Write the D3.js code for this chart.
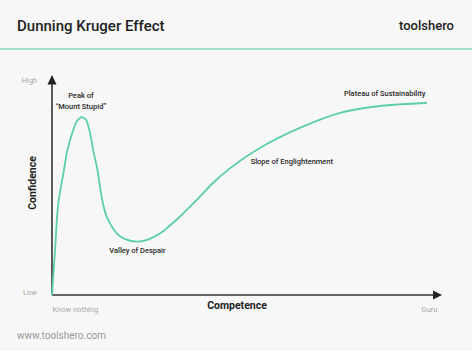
<!DOCTYPE html>
<html>
<head>
<meta charset="utf-8">
<script src="https://cdn.jsdelivr.net/npm/d3@7"></script>
<style>
  html, body { margin: 0; padding: 0; background: #ffffff; }
  svg { display: block; }
  text { font-family: Roboto, "Noto Sans", sans-serif; }
</style>
</head>
<body>
<svg id="chart" width="474" height="355"></svg>
<script>
// ---- Data ----
const competence = [0, 0.8, 1.6, 3.1, 4.0, 5.5, 6.5, 7.7, 8.8, 9.7, 10.7, 11.8, 12.6, 13.2, 14.2, 15.3, 16.8, 19.0, 22.0, 24.9, 28.1, 30.6, 33.2, 37.6, 41.8, 46.2, 54.0, 64.4, 74.8, 85.2, 97.4];
const confidence = [0, 20.9, 41.9, 58.1, 67.4, 76.7, 80.9, 82.7, 81.6, 76.7, 67.4, 58.1, 48.8, 42.8, 36.4, 32.6, 28.7, 26.0, 24.8, 25.8, 28.7, 32.3, 36.4, 44.2, 52.1, 58.9, 68.4, 77.7, 84.7, 87.9, 89.3];
const xTickValues = [0, 100];
const xTickLabels = ["Know nothing", "Guru"];
const yTickValues = [0, 100];
const yTickLabels = ["Low", "High"];
const stageNames = ["Peak of|\u201CMount Stupid\u201D", "Valley of Despair", "Slope of Englightenment", "Plateau of Sustainability"];
const stageX = [7.5, 22.2, 62.3, 86.4];
const stageY = [91.6, 19.5, 60.9, 92.6];

const svg = d3.select("#chart");

// background
svg.append("rect").attr("x", 0).attr("y", 0).attr("width", 472).attr("height", 351).attr("fill", "#f7f7f7");

// header
svg.append("text").attr("x", 17).attr("y", 31).attr("font-size", 15).attr("font-weight", 500)
  .attr("fill", "#222").text("Dunning Kruger Effect");
svg.append("text").attr("x", 454).attr("y", 30).attr("text-anchor", "end").attr("font-size", 13)
  .attr("font-weight", 500).attr("fill", "#222").text("toolshero");
svg.append("line").attr("x1", 0).attr("x2", 472).attr("y1", 49).attr("y2", 49)
  .attr("stroke", "#86d3bf").attr("stroke-width", 1.5);

// scales
const x = d3.scaleLinear().domain([0, 100]).range([52, 437]);
const y = d3.scaleLinear().domain([0, 100]).range([295, 80]);

// axes lines with arrows
const axisColor = "#333";
svg.append("line").attr("x1", x(0)).attr("x2", x(0)).attr("y1", y(0)).attr("y2", 82)
  .attr("stroke", axisColor).attr("stroke-width", 1.6);
svg.append("path").attr("d", `M${x(0)},75 L${x(0) - 4.5},84.5 L${x(0) + 4.5},84.5 Z`).attr("fill", "#222");
svg.append("line").attr("x1", x(0)).attr("x2", 436).attr("y1", y(0)).attr("y2", y(0))
  .attr("stroke", axisColor).attr("stroke-width", 1.6);
svg.append("path").attr("d", `M442,${y(0)} L433,${y(0) - 4.5} L433,${y(0) + 4.5} Z`).attr("fill", "#222");

// tick labels via d3 axes
const yAxis = d3.axisLeft(y).tickValues(yTickValues).tickSize(0).tickPadding(15)
  .tickFormat((d, i) => yTickLabels[i]);
const gy = svg.append("g").attr("transform", `translate(${x(0)},0)`).call(yAxis);
gy.select(".domain").remove();
gy.selectAll("text").attr("font-size", 7.5).attr("fill", "#a8a8a8")
  .attr("font-family", "Roboto, sans-serif").attr("dy", (d) => d === 0 ? "-0.05em" : "0.32em");

const xAxis = d3.axisBottom(x).tickValues(xTickValues).tickSize(0).tickPadding(12)
  .tickFormat((d, i) => xTickLabels[i]);
const gx = svg.append("g").attr("transform", `translate(0,${y(0)})`).call(xAxis);
gx.select(".domain").remove();
gx.selectAll("text").attr("font-size", 7.5).attr("fill", "#a8a8a8")
  .attr("font-family", "Roboto, sans-serif")
  .attr("text-anchor", (d) => d === 0 ? "start" : "end");

// axis titles
svg.append("text").attr("x", 237).attr("y", 309).attr("text-anchor", "middle")
  .attr("font-size", 10.5).attr("font-weight", 700).attr("fill", "#222").text("Competence");
svg.append("text").attr("transform", "translate(36,183) rotate(-90)").attr("text-anchor", "middle")
  .attr("font-size", 10.5).attr("font-weight", 700).attr("fill", "#222").text("Confidence");

// curve
const pts = competence.map((c, i) => [c, confidence[i]]);
const line = d3.line().x(d => x(d[0])).y(d => y(d[1])).curve(d3.curveCatmullRom.alpha(0.5));
svg.append("path").datum(pts).attr("d", line).attr("fill", "none")
  .attr("stroke", "#5ccfa9").attr("stroke-width", 1.8);

// stage labels
stageNames.forEach((name, i) => {
  const parts = name.split("|");
  const t = svg.append("text").attr("x", x(stageX[i])).attr("y", y(stageY[i]))
    .attr("text-anchor", "middle").attr("font-size", 7.5).attr("font-weight", 500).attr("fill", "#2a2a2a");
  parts.forEach((p, j) => {
    t.append("tspan").attr("x", x(stageX[i])).attr("dy", j === 0 ? 0 : 11).text(p);
  });
});

// footer
svg.append("text").attr("x", 17).attr("y", 339).attr("font-size", 10).attr("fill", "#9a9a9a")
  .text("www.toolshero.com");
</script>
</body>
</html>
